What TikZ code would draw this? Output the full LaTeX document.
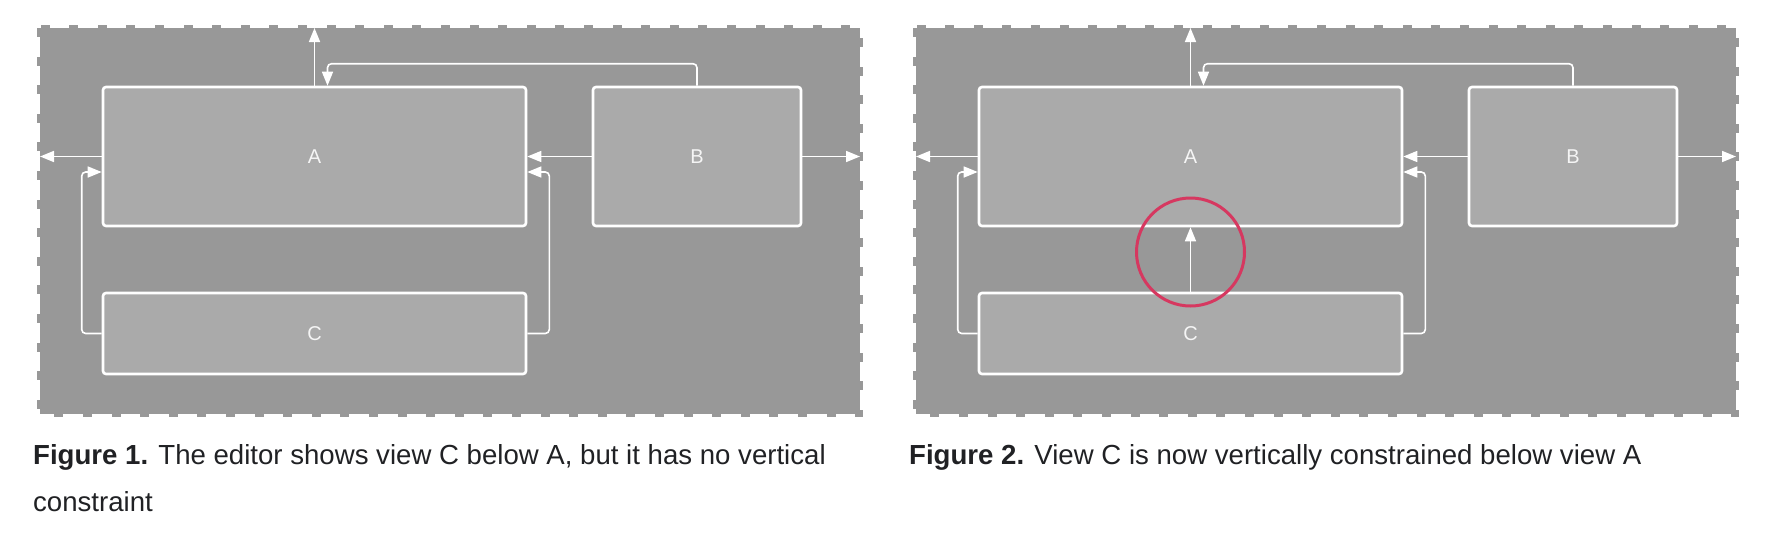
\documentclass[tikz,border=0pt]{standalone}
\usepackage{fontspec}
\setmainfont{Liberation Sans}
\usetikzlibrary{arrows.meta}
\usepackage{xcolor}
\definecolor{canvasgray}{RGB}{152,152,152}
\definecolor{viewgray}{RGB}{170,170,170}
\definecolor{markred}{RGB}{214,56,96}
\definecolor{captionblack}{RGB}{32,33,36}

\tikzset{
  view/.style={draw=white, line width=2.6pt, fill=viewgray, rounded corners=3pt,
    text=white!96!black, font=\fontsize{20}{20}\selectfont},
  link/.style={draw=white, line width=1.6pt, rounded corners=4pt,
    -{Triangle[length=14pt, width=11pt]}},
  caption/.style={anchor=base west, inner sep=0pt, align=left, text=captionblack,
    font=\fontsize{27.6}{47}\selectfont},
}

\begin{document}
\begin{tikzpicture}[x=1pt, y=-1pt]
  \useasboundingbox (0,0) rectangle (1770,544);
  \foreach \p/\dx in {1/0, 2/876} {
    \begin{scope}[xshift=\dx]
      % editor canvas with its ragged edge
      \fill[canvasgray] (40,28) rectangle (860,414);
      \draw[canvasgray, line width=6pt, dash pattern=on 9pt off 19.6pt]
        (40,28) rectangle (860,414);
      \node[view, minimum width=423pt, minimum height=139pt] (A\p) at (314.5,156.5) {A};
      \node[view, minimum width=208pt, minimum height=139pt] (B\p) at (697,156.5) {B};
      \node[view, minimum width=423pt, minimum height=81pt] (C\p) at (314.5,333.5) {C};
      \coordinate (top\p) at (314.5,28);
      \coordinate (left\p) at (40,156.5);
      \coordinate (right\p) at (860,156.5);
      % constraints
      \draw[link] (A\p.north) -- (top\p);
      \draw[link] (A\p.west) -- (left\p);
      \draw[link] (B\p.east) -- (right\p);
      \draw[link] (B\p.west) -- (A\p.east);
      \draw[link] (B\p.north) -- ++(0,-22) -| ([xshift=13pt]A\p.north);
      \draw[link] (C\p.west) -- ++(-20,0) |- ([yshift=-15.5pt]A\p.west);
      \draw[link] (C\p.east) -- ++(22,0) |- ([yshift=-15.5pt]A\p.east);
    \end{scope}
  }
  % the new vertical constraint
  \draw[link] (C2.north) -- (A2.south);
  \draw[markred, line width=3pt] (C2.north |- 0,252) circle[radius=54pt];

  % base of a two-line node sits on its last line
  \node[caption] (cap1) at (33,511)
    {\textbf{Figure 1.} The editor shows view C below A, but it has no vertical\\constraint};
  \node[caption] (cap2) at (909,464)
    {\textbf{Figure 2.} View C is now vertically constrained below view A};
\end{tikzpicture}
\end{document}
